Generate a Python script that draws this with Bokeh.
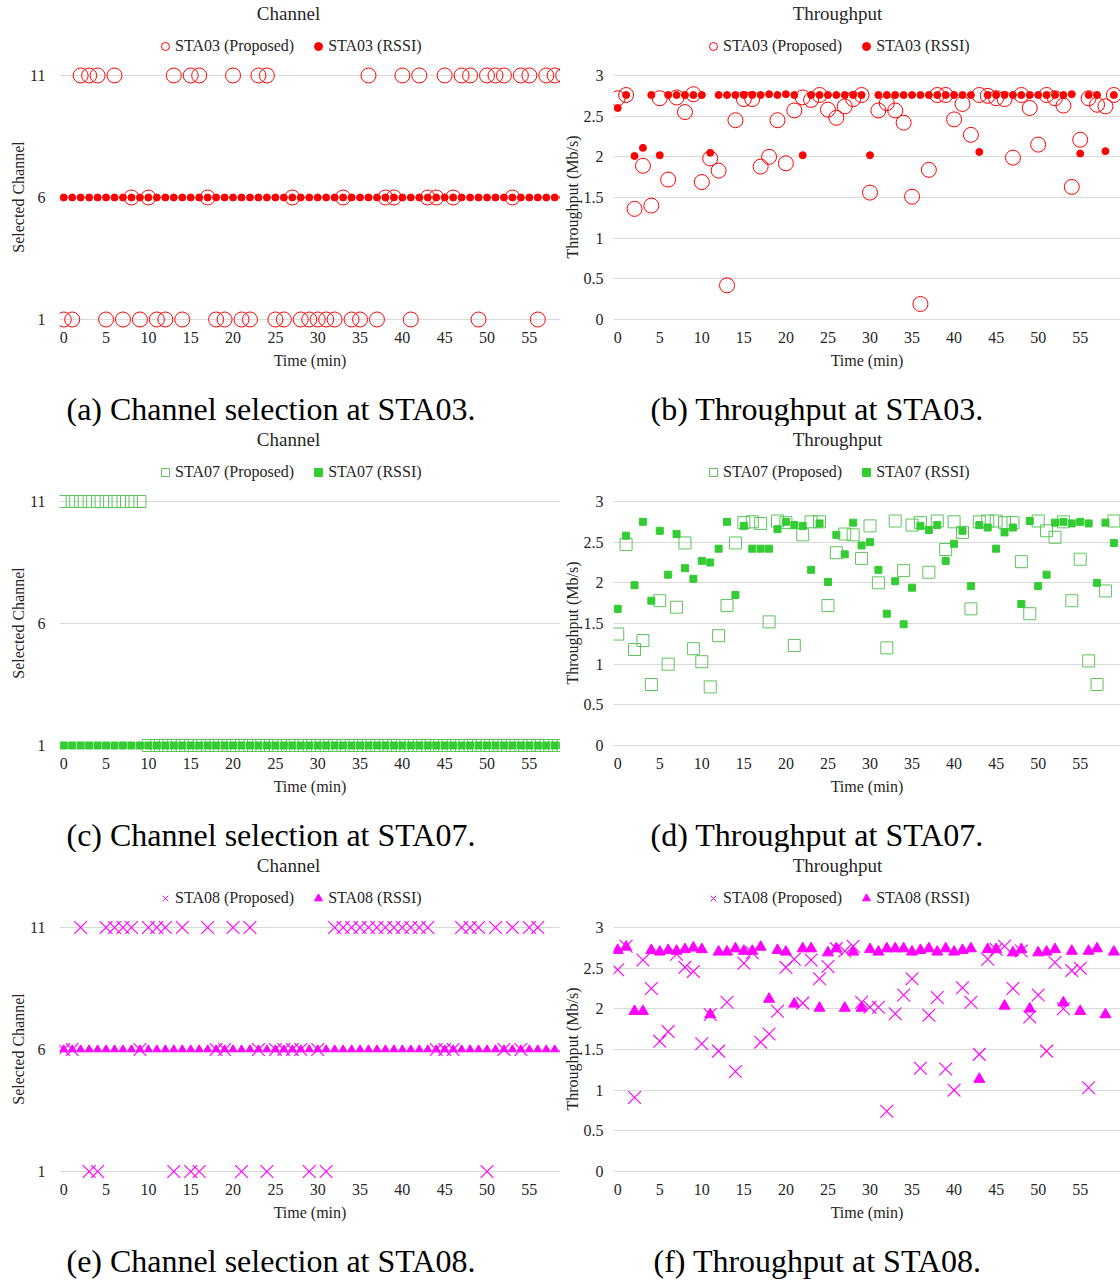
import math
from bokeh.plotting import figure
from bokeh.models import Range1d, FixedTicker, Legend, LegendItem, Label
from bokeh.layouts import column, row
from bokeh.embed import file_html
from bokeh.resources import INLINE

FONT = "Liberation Serif"
CAP_FONT = "Liberation Serif"
TEXT = "#262626"
GRID = "#D9D9D9"

# ---------------- data ----------------
minutes = [0, 1, 2, 3, 4, 5, 6, 7, 8, 9, 10, 11, 12, 13, 14, 15, 16, 17, 18, 19,
           20, 21, 22, 23, 24, 25, 26, 27, 28, 29, 30, 31, 32, 33, 34, 35, 36, 37, 38, 39,
           40, 41, 42, 43, 44, 45, 46, 47, 48, 49, 50, 51, 52, 53, 54, 55, 56, 57, 58, 59]
minutes_sta08_proposed = minutes[:57]

time_ticks = [0, 5, 10, 15, 20, 25, 30, 35, 40, 45, 50, 55]
channel_ticks = [1, 6, 11]
tp_ticks = [0, 0.5, 1, 1.5, 2, 2.5, 3]
tp_tick_labels = ["0", "0.5", "1", "1.5", "2", "2.5", "3"]

sta03_ch_proposed = [1, 1, 11, 11, 11, 1, 11, 1, 6, 1, 6, 1, 1, 11, 1, 11, 11, 6, 1, 1,
                     11, 1, 1, 11, 11, 1, 1, 6, 1, 1, 1, 1, 1, 6, 1, 1, 11, 1, 6, 6,
                     11, 1, 11, 6, 6, 11, 6, 11, 11, 1, 11, 11, 11, 6, 11, 11, 1, 11, 11, 11]
sta03_ch_rssi = [6, 6, 6, 6, 6, 6, 6, 6, 6, 6, 6, 6, 6, 6, 6, 6, 6, 6, 6, 6,
                 6, 6, 6, 6, 6, 6, 6, 6, 6, 6, 6, 6, 6, 6, 6, 6, 6, 6, 6, 6,
                 6, 6, 6, 6, 6, 6, 6, 6, 6, 6, 6, 6, 6, 6, 6, 6, 6, 6, 6, 6]
sta03_tp_proposed = [2.72, 2.76, 1.36, 1.89, 1.40, 2.72, 1.72, 2.73, 2.55, 2.77,
                     1.69, 1.98, 1.83, 0.42, 2.45, 2.71, 2.71, 1.88, 2.00, 2.45,
                     1.92, 2.57, 2.73, 2.70, 2.76, 2.58, 2.48, 2.62, 2.71, 2.76,
                     1.56, 2.57, 2.66, 2.57, 2.42, 1.51, 0.19, 1.84, 2.76, 2.76,
                     2.46, 2.65, 2.27, 2.76, 2.75, 2.72, 2.71, 1.99, 2.76, 2.60,
                     2.15, 2.76, 2.72, 2.63, 1.63, 2.21, 2.72, 2.64, 2.62, 2.76]
sta03_tp_rssi = [2.60, 2.76, 2.01, 2.11, 2.76, 2.02, 2.76, 2.76, 2.76, 2.76,
                 2.76, 2.05, 2.76, 2.76, 2.76, 2.76, 2.76, 2.76, 2.77, 2.76,
                 2.77, 2.76, 2.02, 2.76, 2.76, 2.76, 2.76, 2.76, 2.76, 2.76,
                 2.02, 2.76, 2.76, 2.76, 2.76, 2.76, 2.76, 2.76, 2.76, 2.76,
                 2.76, 2.76, 2.76, 2.06, 2.76, 2.76, 2.76, 2.76, 2.76, 2.76,
                 2.76, 2.76, 2.76, 2.76, 2.77, 2.04, 2.76, 2.76, 2.07, 2.76]

sta07_ch_proposed = [11, 11, 11, 11, 11, 11, 11, 11, 11, 11, 1, 1, 1, 1, 1, 1, 1, 1, 1, 1,
                     1, 1, 1, 1, 1, 1, 1, 1, 1, 1, 1, 1, 1, 1, 1, 1, 1, 1, 1, 1,
                     1, 1, 1, 1, 1, 1, 1, 1, 1, 1, 1, 1, 1, 1, 1, 1, 1, 1, 1, 1]
sta07_ch_rssi = [1, 1, 1, 1, 1, 1, 1, 1, 1, 1, 1, 1, 1, 1, 1, 1, 1, 1, 1, 1,
                 1, 1, 1, 1, 1, 1, 1, 1, 1, 1, 1, 1, 1, 1, 1, 1, 1, 1, 1, 1,
                 1, 1, 1, 1, 1, 1, 1, 1, 1, 1, 1, 1, 1, 1, 1, 1, 1, 1, 1, 1]
sta07_tp_proposed = [1.37, 2.47, 1.18, 1.29, 0.75, 1.78, 1.00, 1.70, 2.49, 1.19,
                     1.03, 0.72, 1.35, 1.72, 2.49, 2.74, 2.75, 2.73, 1.52, 2.76,
                     2.74, 1.23, 2.59, 2.75, 2.75, 1.72, 2.37, 2.60, 2.59, 2.30,
                     2.70, 2.00, 1.20, 2.76, 2.15, 2.71, 2.74, 2.13, 2.76, 2.41,
                     2.75, 2.62, 1.68, 2.75, 2.76, 2.76, 2.74, 2.74, 2.26, 1.62,
                     2.76, 2.64, 2.56, 2.75, 1.78, 2.29, 1.04, 0.75, 1.90, 2.76]
sta07_tp_rssi = [1.68, 2.58, 1.97, 2.75, 1.78, 2.64, 2.10, 2.60, 2.18, 2.05,
                 2.27, 2.25, 2.42, 2.75, 1.85, 2.70, 2.42, 2.42, 2.42, 2.66,
                 2.75, 2.71, 2.70, 2.16, 2.73, 2.01, 2.59, 2.35, 2.74, 2.46,
                 2.50, 2.16, 1.62, 2.02, 1.49, 1.94, 2.70, 2.65, 2.71, 2.27,
                 2.48, 2.64, 1.96, 2.71, 2.68, 2.42, 2.62, 2.68, 1.74, 2.76,
                 1.96, 2.10, 2.74, 2.75, 2.73, 2.75, 2.73, 2.00, 2.74, 2.49]

sta08_ch_proposed = [6, 6, 11, 1, 1, 11, 11, 11, 11, 6, 11, 11, 11, 1, 11, 1, 1, 11, 6, 6,
                     11, 1, 11, 6, 1, 6, 6, 6, 6, 1, 6, 1, 11, 11, 11, 11, 11, 11, 11, 11,
                     11, 11, 11, 11, 6, 6, 6, 11, 11, 11, 1, 11, 6, 11, 6, 11, 11]
sta08_ch_rssi = [6, 6, 6, 6, 6, 6, 6, 6, 6, 6, 6, 6, 6, 6, 6, 6, 6, 6, 6, 6,
                 6, 6, 6, 6, 6, 6, 6, 6, 6, 6, 6, 6, 6, 6, 6, 6, 6, 6, 6, 6,
                 6, 6, 6, 6, 6, 6, 6, 6, 6, 6, 6, 6, 6, 6, 6, 6, 6, 6, 6, 6]
sta08_tp_proposed = [2.48, 2.77, 0.91, 2.60, 2.25, 1.60, 1.72, 2.67, 2.51, 2.46,
                     1.57, 1.93, 1.48, 2.08, 1.23, 2.56, 2.69, 1.59, 1.69, 1.97,
                     2.51, 2.61, 2.07, 2.60, 2.37, 2.52, 2.74, 2.71, 2.77, 2.08,
                     2.02, 2.02, 0.74, 1.94, 2.17, 2.37, 1.27, 1.92, 2.14, 1.26,
                     1.00, 2.26, 2.08, 1.44, 2.61, 2.73, 2.77, 2.25, 2.71, 1.90,
                     2.17, 1.48, 2.57, 2.00, 2.47, 2.50, 1.03]
sta08_tp_rssi = [2.72, 2.76, 1.97, 1.97, 2.72, 2.70, 2.72, 2.71, 2.73, 2.75,
                 2.73, 1.93, 2.70, 2.70, 2.74, 2.71, 2.71, 2.76, 2.12, 2.72,
                 2.70, 2.06, 2.74, 2.74, 2.01, 2.69, 2.74, 2.01, 2.70, 2.01,
                 2.73, 2.70, 2.74, 2.74, 2.74, 2.70, 2.72, 2.74, 2.70, 2.74,
                 2.70, 2.72, 2.74, 1.135, 2.73, 2.73, 2.035, 2.69, 2.73, 2.00,
                 2.69, 2.70, 2.73, 2.075, 2.71, 1.97, 2.71, 2.74, 1.93, 2.70]

RED = "#FF0000"
GREEN = "#33CC33"
GREEN_OPEN = "#5CC45C"
MAGENTA = "#FF00FF"

W = 560
HEADER_H = 64
MAIN_H = 314          # frame 265 px + 49 px for the x axis
FRAME_H = 265
DIAG = math.pi / 4


def bare_fig(height):
    # ranges far away from the data: proxy renderers used by the legend stay hidden
    f = figure(width=W, height=height, output_backend="svg", toolbar_location=None,
               x_range=Range1d(1000, 1001), y_range=Range1d(1000, 1001),
               x_axis_type=None, y_axis_type=None, title=None,
               min_border_left=0, min_border_right=0, min_border_top=0, min_border_bottom=0)
    f.outline_line_color = None
    f.background_fill_color = "white"
    f.border_fill_color = "white"
    return f


def add_series(fig, s, proxy=False):
    """Draw one series. X marks in the chart are two thin filled bars crossed at 45 degrees."""
    if s["marker"] == "xmark":
        if proxy:
            return [fig.scatter(s["x"], s["y"], marker="x", size=14, line_color=s["line"],
                                line_width=1.0)]
        bar = dict(width=s["size"], height=1.15, width_units="screen", height_units="screen",
                   fill_color=s["line"], line_color=None)
        return [fig.rect(s["x"], s["y"], angle=DIAG, **bar),
                fig.rect(s["x"], s["y"], angle=-DIAG, **bar)]
    return [fig.scatter(s["x"], s["y"], marker=s["marker"], size=s["size"],
                        fill_color=s["fill"], line_color=s["line"], line_width=s.get("lw", 1.0))]


def make_panel(kind, title, caption, series, cap_h=48, cap_x=None):
    if kind == "channel":
        left, x_end = 59, 58.68
        y0, y1 = 0.59, 11.45
        yticks = channel_ticks
        ylabel = "Selected Channel"
        lab_standoff, axlab_standoff = 14, 0
        title_cx, legend_x, cx = 288, 155, 66
    else:
        left, x_end = 53, 59.79
        y0, y1 = -0.123, 3.135
        yticks = tp_ticks
        ylabel = "Throughput (Mb/s)"
        lab_standoff, axlab_standoff = 10, 0
        title_cx, legend_x, cx = 277, 143, 90
    if cap_x is None:
        cap_x = cx

    # ---- main chart ----
    p = figure(width=W, height=MAIN_H, output_backend="svg", toolbar_location=None,
               x_range=Range1d(-0.5, x_end), y_range=Range1d(y0, y1), title=None,
               min_border_left=left, min_border_right=0, min_border_top=0,
               min_border_bottom=MAIN_H - FRAME_H)
    p.outline_line_color = None
    p.background_fill_color = "white"
    p.border_fill_color = "white"
    p.xgrid.visible = False
    p.ygrid.grid_line_color = GRID
    p.ygrid.grid_line_width = 1
    p.xaxis.ticker = FixedTicker(ticks=time_ticks)
    p.yaxis.ticker = FixedTicker(ticks=yticks)
    if kind != "channel":
        p.yaxis.major_label_overrides = {t: l for t, l in zip(tp_ticks, tp_tick_labels)}
    for ax in (p.xaxis[0], p.yaxis[0]):
        ax.axis_line_color = None
        ax.major_tick_line_color = None
        ax.minor_tick_line_color = None
        ax.major_tick_out = 0
        ax.major_tick_in = 0
        ax.minor_tick_out = 0
        ax.minor_tick_in = 0
        ax.major_label_text_font = FONT
        ax.major_label_text_font_size = "16px"
        ax.major_label_text_color = TEXT
        ax.axis_label_text_font = FONT
        ax.axis_label_text_font_size = "16px"
        ax.axis_label_text_font_style = "normal"
        ax.axis_label_text_color = TEXT
    p.xaxis.major_label_standoff = 2
    p.xaxis.axis_label = "Time (min)"
    p.xaxis.axis_label_standoff = 6
    p.yaxis.axis_label = ylabel
    p.yaxis.major_label_standoff = lab_standoff
    p.yaxis.axis_label_standoff = axlab_standoff
    for s in series:
        add_series(p, s)

    # ---- header: title and legend (this figure's frame is aligned with the chart's) ----
    h = bare_fig(HEADER_H)
    h.add_layout(Label(x=title_cx - left, y=HEADER_H - 13, x_units="screen", y_units="screen",
                       text=title, text_align="center", text_baseline="middle",
                       text_font=FONT, text_font_size="19px", text_color=TEXT))
    items = []
    for s in series:
        rs = add_series(h, s, proxy=True)
        items.append(LegendItem(label=s["label"], renderers=rs))
    legend = Legend(items=items, orientation="horizontal",
                    location=(legend_x - left, HEADER_H - 56),
                    label_text_font=FONT, label_text_font_size="16px", label_text_color=TEXT,
                    glyph_width=20, glyph_height=20, label_height=20, label_standoff=0,
                    spacing=14, padding=0, margin=0, border_line_color=None,
                    background_fill_alpha=0)
    h.add_layout(legend, "center")

    # ---- caption ----
    c = bare_fig(cap_h)
    c.add_layout(Label(x=cap_x - left, y=cap_h - 30, x_units="screen", y_units="screen",
                       text=caption, text_align="left", text_baseline="middle",
                       text_font=CAP_FONT, text_font_size="32px", text_color="#000000"))
    return column(h, p, c, spacing=0)


pa = make_panel("channel", "Channel", "(a) Channel selection at STA03.", [
    dict(x=minutes, y=sta03_ch_proposed, marker="circle", size=15, fill=None, line=RED, label="STA03 (Proposed)"),
    dict(x=minutes, y=sta03_ch_rssi, marker="circle", size=7, fill=RED, line=RED, label="STA03 (RSSI)"),
])
pb = make_panel("throughput", "Throughput", "(b) Throughput at STA03.", [
    dict(x=minutes, y=sta03_tp_proposed, marker="circle", size=15, fill=None, line=RED, label="STA03 (Proposed)"),
    dict(x=minutes, y=sta03_tp_rssi, marker="circle", size=7, fill=RED, line=RED, label="STA03 (RSSI)"),
])
pc = make_panel("channel", "Channel", "(c) Channel selection at STA07.", [
    dict(x=minutes, y=sta07_ch_proposed, marker="square", size=12, fill=None, line=GREEN_OPEN, label="STA07 (Proposed)"),
    dict(x=minutes, y=sta07_ch_rssi, marker="square", size=7, fill=GREEN, line=GREEN, label="STA07 (RSSI)"),
])
pd_ = make_panel("throughput", "Throughput", "(d) Throughput at STA07.", [
    dict(x=minutes, y=sta07_tp_proposed, marker="square", size=12, fill=None, line=GREEN_OPEN, label="STA07 (Proposed)"),
    dict(x=minutes, y=sta07_tp_rssi, marker="square", size=7, fill=GREEN, line=GREEN, label="STA07 (RSSI)"),
])
pe = make_panel("channel", "Channel", "(e) Channel selection at STA08.", [
    dict(x=minutes_sta08_proposed, y=sta08_ch_proposed, marker="xmark", size=18, fill=None, line=MAGENTA, label="STA08 (Proposed)"),
    dict(x=minutes, y=sta08_ch_rssi, marker="triangle", size=8, fill=MAGENTA, line=MAGENTA, label="STA08 (RSSI)"),
], cap_h=51)
pf = make_panel("throughput", "Throughput", "(f) Throughput at STA08.", [
    dict(x=minutes_sta08_proposed, y=sta08_tp_proposed, marker="xmark", size=18, fill=None, line=MAGENTA, label="STA08 (Proposed)"),
    dict(x=minutes, y=sta08_tp_rssi, marker="triangle", size=11, fill=MAGENTA, line=MAGENTA, label="STA08 (RSSI)"),
], cap_h=51, cap_x=93)

layout = column(row(pa, pb, spacing=0), row(pc, pd_, spacing=0), row(pe, pf, spacing=0), spacing=0)
open("out.html", "w").write(file_html(layout, INLINE))
